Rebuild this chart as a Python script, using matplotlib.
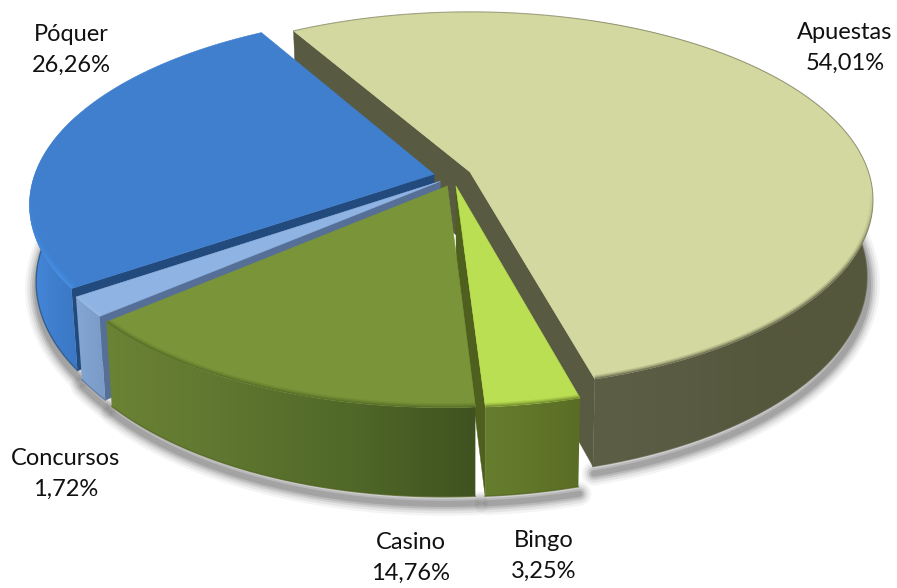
import numpy as np
import matplotlib
matplotlib.use("Agg")
import matplotlib.pyplot as plt
from matplotlib.patches import Polygon
from matplotlib.collections import LineCollection
from matplotlib.colors import to_rgb

# --- data ---
categories = ["Apuestas", "Bingo", "Casino", "Concursos", "Póquer"]
shares = [54.01, 3.25, 14.76, 1.72, 26.26]

# --- style (explosion in disc units, colours) ---
start_angle = -30.0
explode_u = [0.0, -0.035, -0.056, -0.074, -0.090]
explode_v = [0.0, 0.075, 0.075, 0.050, 0.012]
top_colors = ["#d3d8a0", "#bbdf52", "#7a9539", "#8fb4e3", "#3f7fce"]
radial_colors = ["#585a41", "#4f5f1d", "#4f5f1d", "#566f97", "#234a7c"]
wall_stops = [["#5d5e46", "#595b42", "#55573c", "#55573c"],
              ["#677d2e", "#617629", "#5a6d25"],
              ["#6b8334", "#5f7630", "#506828", "#3f5220"],
              ["#84a6d4", "#7a9ac6"],
              ["#4688dc", "#3f7fce", "#3b78c4"]]
rim_colors = ["#55573c", "#5f7628", "#4f6526", "#a9c8f0", "#4a94ec"]
rim_scale = [0.8, 0.8, 0.9, 1.2, 1.2]
edge_alpha = [0.55, 0.0, 0.0, 0.0, 0.0]

# projection of the tilted disc
CX, CY = 470.0, 172.0
R, S, K = 398.5, 184.0, 0.149
DEPTH, SHRINK = 75.0, 0.985


def project(u, v):
    w = 1 - K * v
    return CX + R * u / w, CY + S * v / w, w


def slice_geometry(t0, t1, ou, ov):
    th = np.radians(np.linspace(t0, t1, 200))
    ax_, ay_, aw = project(np.array([ou]), np.array([ov]))
    x, y, w = project(np.sin(th) + ou, -np.cos(th) + ov)
    return (ax_[0], ay_[0], aw[0]), (x, y, w)


def lower(x, y, w):
    return CX + (x - CX) * SHRINK, y + DEPTH / w


fig = plt.figure(figsize=(8.97, 5.88), dpi=100)
ax = fig.add_axes([0, 0, 1, 1])
ax.axis("off")

angles = np.cumsum([0] + [s * 3.6 for s in shares]) + start_angle
geo = []
for i in range(len(shares)):
    geo.append(slice_geometry(angles[i], angles[i + 1], explode_u[i], explode_v[i]))

z = [0]


def nz():
    z[0] += 1
    return z[0]


def draw_shadow():
    zz = nz()
    for lw, a in [(24, 0.06), (19, 0.09), (14, 0.13), (10, 0.17), (6, 0.2)]:
        for (apex, (x, y, w)) in geo:
            bx, by = lower(x, y, w)
            ax.plot(bx + 1, by + 7, color="#4d4d4d", lw=lw * 0.72, alpha=a,
                    solid_capstyle="round", zorder=zz)


def radial_wall(i, end):
    (ax0, ay0, aw), (x, y, w) = geo[i]
    k = 0 if end == "start" else -1
    bx, by = lower(x[k], y[k], w[k])
    abx, aby = lower(ax0, ay0, aw)
    ax.add_patch(Polygon([(ax0, ay0), (x[k], y[k]), (bx, by), (abx, aby)],
                         closed=True, fc=radial_colors[i], ec=radial_colors[i],
                         lw=0.3, zorder=nz()))


def outer_wall(i):
    (_, (x, y, w)) = geo[i]
    bx, by = lower(x, y, w)
    pts = np.r_[np.c_[x, y], np.c_[bx, by][::-1]]
    front = y > 190
    x0, x1 = min(x[front].min(), bx[front].min()), max(x[front].max(), bx[front].max())
    stops = np.array([to_rgb(c) for c in wall_stops[i]])
    t = np.linspace(0, 1, 256)
    img = np.stack([np.interp(t, np.linspace(0, 1, len(stops)), stops[:, c]) for c in range(3)], axis=-1)
    img = img[None, :, :]
    zz = nz()
    poly = Polygon(pts, closed=True, fc="none", ec="none", zorder=zz)
    ax.add_patch(poly)
    im = ax.imshow(img, extent=(x0, x1, pts[:, 1].max(), pts[:, 1].min()),
                   aspect="auto", zorder=zz, interpolation="bilinear")
    im.set_clip_path(poly)
    ax.plot(bx, by, color=radial_colors[i], lw=1.0, alpha=0.7, zorder=zz + 0.1)


def top(i):
    (ax0, ay0, _), (x, y, w) = geo[i]
    pts = np.r_[[(ax0, ay0)], np.c_[x, y]]
    zz = nz()
    poly = Polygon(pts, closed=True, fc=top_colors[i], ec=top_colors[i], lw=0.4, zorder=zz)
    ax.add_patch(poly)
    fade = np.clip((y - 190) / 90, 0, 1)[:-1]
    segs = np.stack([np.c_[x[:-1], y[:-1]], np.c_[x[1:], y[1:]]], axis=1)
    rgb = to_rgb(rim_colors[i])
    for lw, a in [(7, 0.14), (5, 0.22), (3, 0.32), (1.5, 0.5)]:
        cols = np.c_[np.tile(rgb, (len(fade), 1)), a * fade]
        lc = LineCollection(segs, colors=cols, linewidths=lw * rim_scale[i],
                            capstyle="butt", zorder=zz + 0.1)
        ax.add_collection(lc)
        lc.set_clip_path(poly)
    if edge_alpha[i] > 0:
        ax.plot(x, y, color="#6d6f58", lw=0.8, alpha=edge_alpha[i], zorder=zz + 0.2)


draw_shadow()
radial_wall(0, "start")
radial_wall(0, "end")
outer_wall(0)
top(0)
radial_wall(1, "end")
outer_wall(1)
top(1)
radial_wall(4, "start")
outer_wall(4)
top(4)
radial_wall(3, "start")
outer_wall(3)
top(3)
outer_wall(2)
top(2)

label_pos = {"Apuestas": (845, 48), "Póquer": (71, 50), "Concursos": (66, 474),
             "Casino": (411, 558), "Bingo": (544, 556)}
for name, val in zip(categories, shares):
    lx, ly = label_pos[name]
    ax.text(lx, ly, f"{name}\n{val:.2f}%".replace(".", ","), ha="center", va="center",
            fontsize=17, family="Lato", color="#111111", linespacing=1.62, zorder=100)

ax.set_xlim(0, 897)
ax.set_ylim(588, 0)
fig.savefig("out.png", dpi=100, facecolor="white")
